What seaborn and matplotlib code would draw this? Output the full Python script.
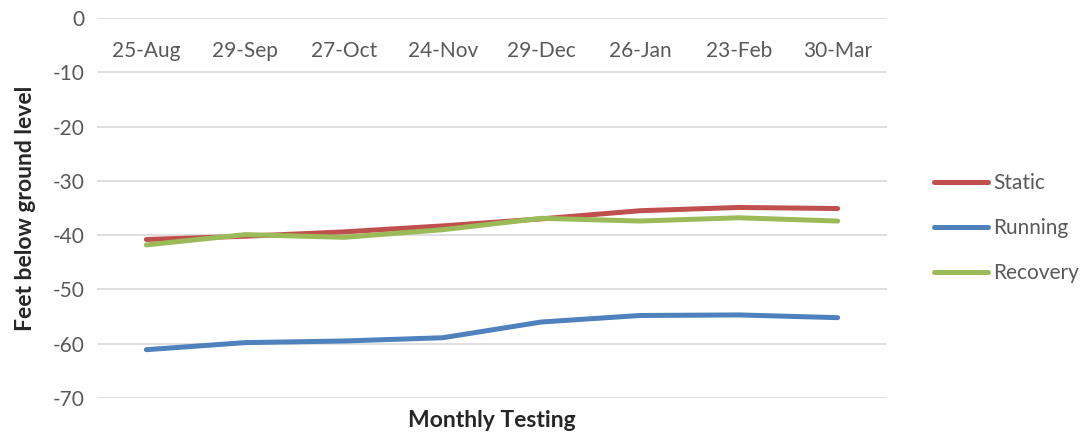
#!/usr/bin/env python3
"""Monthly water level testing: static, running and recovery levels."""
import matplotlib
matplotlib.use("Agg")
import matplotlib.pyplot as plt
import pandas as pd
import seaborn as sns

# === Data ===
months = ["25-Aug", "29-Sep", "27-Oct", "24-Nov", "29-Dec", "26-Jan", "23-Feb", "30-Mar"]
static = [-40.8, -40.2, -39.4, -38.3, -37.0, -35.5, -34.9, -35.1]
running = [-61.1, -59.8, -59.5, -58.9, -56.0, -54.8, -54.7, -55.2]
recovery = [-41.8, -39.9, -40.4, -39.0, -36.9, -37.4, -36.8, -37.4]

series_names = ["Static", "Running", "Recovery"]
colors = ["#C0504D", "#4F81BD", "#9BBB59"]

# === Style ===
sns.set_theme(style="white")
plt.rcParams["font.family"] = ["Lato", "DejaVu Sans"]
plt.rcParams["axes.unicode_minus"] = False

df = pd.DataFrame({"Month": months, "Static": static, "Running": running, "Recovery": recovery})
long_df = df.melt(id_vars="Month", var_name="Series", value_name="Level")

fig = plt.figure(figsize=(10.83, 4.36), dpi=100)
ax = fig.add_axes([97 / 1083, 1 - 398 / 436, (887 - 97) / 1083, (398 - 18) / 436])

sns.lineplot(
    data=long_df, x="Month", y="Level", hue="Series",
    hue_order=series_names, palette=colors, linewidth=3.6,
    sort=False, ax=ax, legend=True,
)
for line in ax.get_lines():
    line.set_solid_capstyle("round")

ax.set_ylim(-70, 0)
ax.set_xlim(-0.5, len(months) - 0.5)
ax.set_yticks(range(-70, 1, 10))
ax.yaxis.grid(True, color="#D9D9D9", linewidth=1.2)
ax.xaxis.grid(False)
for s in ax.spines.values():
    s.set_visible(False)

ax.tick_params(axis="y", length=0, pad=9, labelsize=15, labelcolor="#595959")
ax.tick_params(axis="x", length=0, top=False, bottom=False,
               labeltop=True, labelbottom=False, pad=-31, labelsize=15,
               labelcolor="#595959")

ax.set_xlabel("")
ax.set_ylabel("Feet below ground level", fontsize=16.5, fontweight="bold", labelpad=12)
fig.text((97 + 887) / 2 / 1083, 1 - 420 / 436, "Monthly Testing",
         ha="center", va="center", fontsize=16.5, fontweight="bold")

handles, labels = ax.get_legend_handles_labels()
for h in handles:
    h.set_solid_capstyle("round")
ax.legend(handles, labels, loc="center left", bbox_to_anchor=(915 / 1083, 1 - 228 / 436),
          bbox_transform=fig.transFigure, frameon=False, fontsize=15,
          handlelength=2.6, labelspacing=1.2, handletextpad=0.25)
for t in ax.get_legend().get_texts():
    t.set_color("#595959")

fig.savefig("out.png", dpi=100)
